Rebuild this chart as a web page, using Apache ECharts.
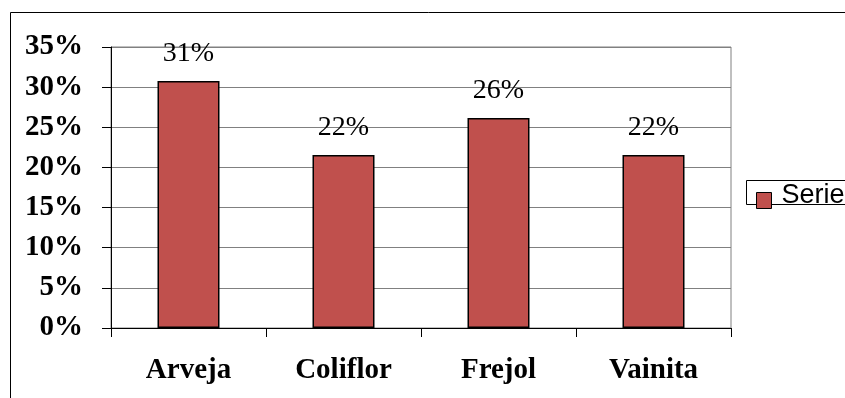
<!DOCTYPE html>
<html>
<head>
<meta charset="utf-8">
<script src="https://cdn.jsdelivr.net/npm/echarts@6/dist/echarts.min.js"></script>
<style>
  html, body { margin: 0; padding: 0; background: #fff; }
  #chart { width: 845px; height: 398px; }
</style>
</head>
<body>
<div id="chart"></div>
<script>
// Share of each vegetable
const categories = ['Arveja', 'Coliflor', 'Frejol', 'Vainita'];
const shares = [0.3077, 0.2154, 0.2615, 0.2154];
const seriesName = 'Serie1';
const yTicks = [0, 0.05, 0.10, 0.15, 0.20, 0.25, 0.30, 0.35];

const pct = v => Math.round(v * 100) + '%';

// Legend swatch: a square sitting low in a taller 15x32 box (moveTo points pad the bounds)
const swatchPath = 'path://M0,0 M0,13 L15,13 L15,29 L0,29 Z M15,32';

const chart = echarts.init(document.getElementById('chart'), null, { renderer: 'canvas' });

chart.setOption({
  animation: false,
  backgroundColor: '#ffffff',
  graphic: [
    {
      // chart area frame
      type: 'rect',
      shape: { x: 10.5, y: 12.5, width: 1000, height: 600 },
      style: { fill: 'none', stroke: '#000', lineWidth: 1 },
      silent: true,
      z: -1
    },
    {
      // legend frame
      type: 'rect',
      shape: { x: 746.5, y: 180.5, width: 200, height: 24 },
      style: { fill: 'none', stroke: '#000', lineWidth: 1 },
      silent: true,
      z: -1
    }
  ],
  legend: {
    left: 756,
    top: 179,
    orient: 'vertical',
    data: [seriesName],
    icon: swatchPath,
    itemWidth: 15,
    itemHeight: 32,
    itemGap: 0,
    padding: 0,
    itemStyle: { borderColor: '#000', borderWidth: 1 },
    textStyle: {
      fontFamily: 'Liberation Sans',
      fontSize: 27,
      color: '#000',
      padding: [0, 0, 0, 5]
    }
  },
  grid: {
    left: 111,
    top: 47,
    width: 620,
    height: 281,
    show: true,
    borderColor: '#808080',
    borderWidth: 1
  },
  xAxis: {
    type: 'category',
    data: categories,
    axisLine: { lineStyle: { color: '#000', width: 1 } },
    axisTick: { show: true, length: 9, lineStyle: { color: '#000' } },
    axisLabel: {
      margin: 28,
      fontFamily: 'Liberation Serif',
      fontWeight: 'bold',
      fontSize: 29,
      color: '#000'
    }
  },
  yAxis: {
    type: 'value',
    min: yTicks[0],
    max: yTicks[yTicks.length - 1],
    interval: 0.05,
    axisLine: { show: true, lineStyle: { color: '#000', width: 1 } },
    axisTick: { show: true, length: 9, lineStyle: { color: '#000' } },
    splitLine: { lineStyle: { color: '#808080', width: 1 } },
    axisLabel: {
      margin: 28,
      fontFamily: 'Liberation Serif',
      fontWeight: 'bold',
      fontSize: 29,
      color: '#000',
      formatter: pct
    }
  },
  series: [{
    name: seriesName,
    type: 'bar',
    data: shares,
    barWidth: '40%',
    itemStyle: { color: '#C0504D', borderColor: '#000', borderWidth: 1.5 },
    label: {
      show: true,
      position: 'top',
      distance: 13,
      fontFamily: 'Liberation Serif',
      fontSize: 28,
      color: '#000',
      formatter: p => pct(p.value)
    }
  }]
});
</script>
</body>
</html>
